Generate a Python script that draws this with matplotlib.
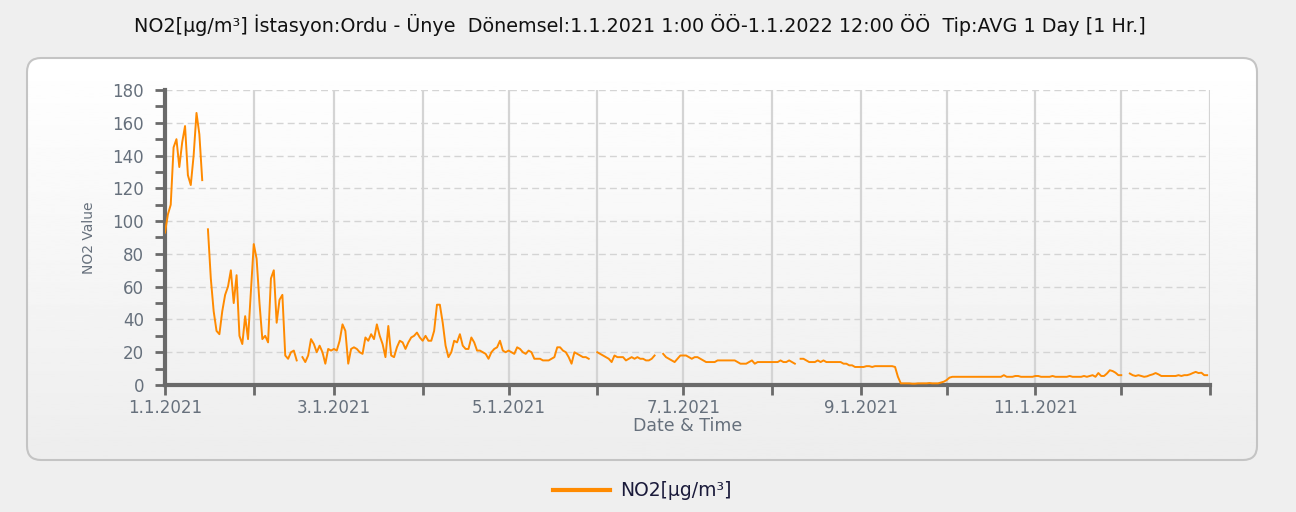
import numpy as np
import matplotlib.pyplot as plt
from matplotlib.patches import FancyBboxPatch
from matplotlib.lines import Line2D

nan = np.nan
###############################################################################
# Daily NO2 averages, one list per month
###############################################################################
JAN = [93, 104, 110, 145, 150, 133, 148, 158, 128, 122, 140, 166, 153, 125, nan,
       95, 65, 45, 33, 31, 45, 55, 60, 70, 50, 67, 30, 25, 42, 28, 57]
FEB = [86, 77, 50, 28, 30, 26, 65, 70, 38, 52, 55, 18, 16, 20, 21, 15, nan,
       17, 14, 18, 28, 25, 20, 24, 20, 13, 22, 21]
MAR = [22, 21, 27, 37, 33, 13, 22, 23, 22, 20, 19, 29, 27, 31, 28, 37, 30, 25,
       17, 36, 18, 17, 23, 27, 26, 22, 26, 29, 30, 32, 29]
APR = [27, 30, 27, 27, 33, 49, 49, 38, 24, 17, 20, 27, 26, 31, 24, 22, 22, 29,
       26, 21, 21, 20, 19, 16, 20, 22, 23, 27, 21, 20]
MAY = [21, 20, 19, 23, 22, 20, 19, 21, 20, 16, 16, 16, 15, 15, 15, 16, 17, 23,
       23, 21, 20, 17, 13, 20, 19, 18, 17, 17, 16, nan, nan]
JUN = [20, 19, 18, 17, 16, 14, 18, 17, 17, 17, 15, 16, 17, 16, 17, 16, 16, 15,
       15, 16, 18, nan, nan, 19, 17, 16, 15, 14, 16, 18]
JUL = [18, 18, 17, 16, 17, 17, 16, 15, 14, 14, 14, 14, 15, 15, 15, 15, 15, 15,
       15, 14, 13, 13, 13, 14, 15, 13, 14, 14, 14, 14, 14]
AUG = [14, 14, 14, 15, 14, 14, 15, 14, 13, nan, 16, 16, 15, 14, 14, 14, 15, 14,
       15, 14, 14, 14, 14, 14, 14, 13, 13, 12, 12, 11, 11]
SEP = [11, 11, 11.5, 11.5, 11, 11.5, 11.5, 11.5, 11.5, 11.5, 11.5, 11.5, 11,
       5, 1, 1, 1, 1, 0.8, 0.8, 1, 1, 1, 1, 1.2, 1, 1, 1, 1.5, 2]
OCT = [3, 4.5, 5, 5, 5, 5, 5, 5, 5, 5, 5, 5, 5, 5, 5, 5, 5, 5, 5, 5, 6, 5, 5,
       5, 5.5, 5.5, 5, 5, 5, 5, 5]
NOV = [5.5, 5.5, 5, 5, 5, 5, 5.5, 5, 5, 5, 5, 5, 5.5, 5, 5, 5, 5, 5.5, 5, 5.5,
       6, 5, 7.3, 5.5, 5.5, 7, 9, 8.5, 7.5, 6]
DEC = [6, nan, nan, 7, 6, 5.5, 6, 5.5, 5, 5.3, 6, 6.5, 7.3, 6.5, 5.5, 5.5, 5.5,
       5.5, 5.5, 5.5, 6, 5.5, 6, 6, 6.5, 7.3, 8, 7.3, 7.5, 6, 6]

MONTHS = [JAN, FEB, MAR, APR, MAY, JUN, JUL, AUG, SEP, OCT, NOV, DEC]
values = np.array([v for m in MONTHS for v in m], dtype=float)
days = np.arange(len(values))
monthStarts = np.cumsum([0] + [len(m) for m in MONTHS])
monthLabels = ['{}.1.2021'.format(i + 1) if i % 2 == 0 else '' for i in range(12)] + ['']

TITLE = ('NO2[µg/m³] İstasyon:Ordu - Ünye  Dönemsel:1.1.2021 1:00 ÖÖ-1.1.2022 '
         '12:00 ÖÖ  Tip:AVG 1 Day [1 Hr.]')
SERIES = 'NO2[µg/m³]'
(ORANGE, GRID, AXC, TXT) = ('#ff8a00', '#d4d4d4', '#6a6a6a', '#66707c')
###############################################################################
# Figure, background panel
###############################################################################
(W, H) = (1296, 512)
fig = plt.figure(figsize=(W / 100, H / 100), dpi=100, facecolor='#efefef')
bg = fig.add_axes([0, 0, 1, 1])
bg.set_xlim(0, W)
bg.set_ylim(H, 0)
bg.axis('off')
panel = FancyBboxPatch((27, 58), 1230, 402, boxstyle='round,pad=0,rounding_size=14',
                       facecolor='none', edgecolor='#c4c4c4', linewidth=1.5, zorder=3)
bg.add_patch(panel)
grad = np.linspace(1.0, 0.93, 256).reshape(-1, 1)
img = bg.imshow(grad, extent=(27, 1257, 460, 58), cmap='gray', vmin=0, vmax=1,
                aspect='auto', zorder=1)
img.set_clip_path(panel)
bg.text(640, 25, TITLE, ha='center', va='center', fontsize=13.8,
        family='DejaVu Sans', color='#111111')
bg.add_line(Line2D([553, 610], [490, 490], color=ORANGE, linewidth=3))
bg.text(620, 490, SERIES, ha='left', va='center', fontsize=13.5,
        family='DejaVu Sans', color='#1a1a3a')
###############################################################################
# Plot area
###############################################################################
ax = fig.add_axes([165 / W, 1 - 385 / H, 1045 / W, 295 / H])
ax.set_facecolor('none')
ax.plot(days, values, color=ORANGE, linewidth=1.4, zorder=3)
ax.set_xlim(0, 365)
ax.set_ylim(0, 180)
ax.set_yticks(np.arange(0, 181, 20))
ax.set_yticks(np.arange(0, 181, 10), minor=True)
ax.set_xticks(monthStarts)
ax.set_xticklabels(monthLabels)
ax.grid(axis='y', which='major', color=GRID, linestyle=(0, (5, 3)), linewidth=1)
ax.grid(axis='x', which='major', color=GRID, linestyle='-', linewidth=1.6)
for s in ('top', 'right'):
    ax.spines[s].set_visible(False)
for s in ('left', 'bottom'):
    ax.spines[s].set_color(AXC)
    ax.spines[s].set_linewidth(3)
ax.tick_params(axis='both', which='both', color=AXC, width=2, length=7,
               labelcolor=TXT, labelsize=12)
ax.tick_params(axis='y', which='major', pad=8)
ax.tick_params(axis='x', which='major', pad=3)
for lab in ax.get_xticklabels() + ax.get_yticklabels():
    lab.set_family('DejaVu Sans')
ax.set_ylabel('NO2 Value', fontsize=10, color=TXT, family='Liberation Sans Narrow',
              labelpad=12)
ax.set_xlabel('Date & Time', fontsize=12.5, color=TXT, family='DejaVu Sans', labelpad=0)

plt.savefig('out.png', dpi=100, facecolor=fig.get_facecolor())
plt.close('all')
